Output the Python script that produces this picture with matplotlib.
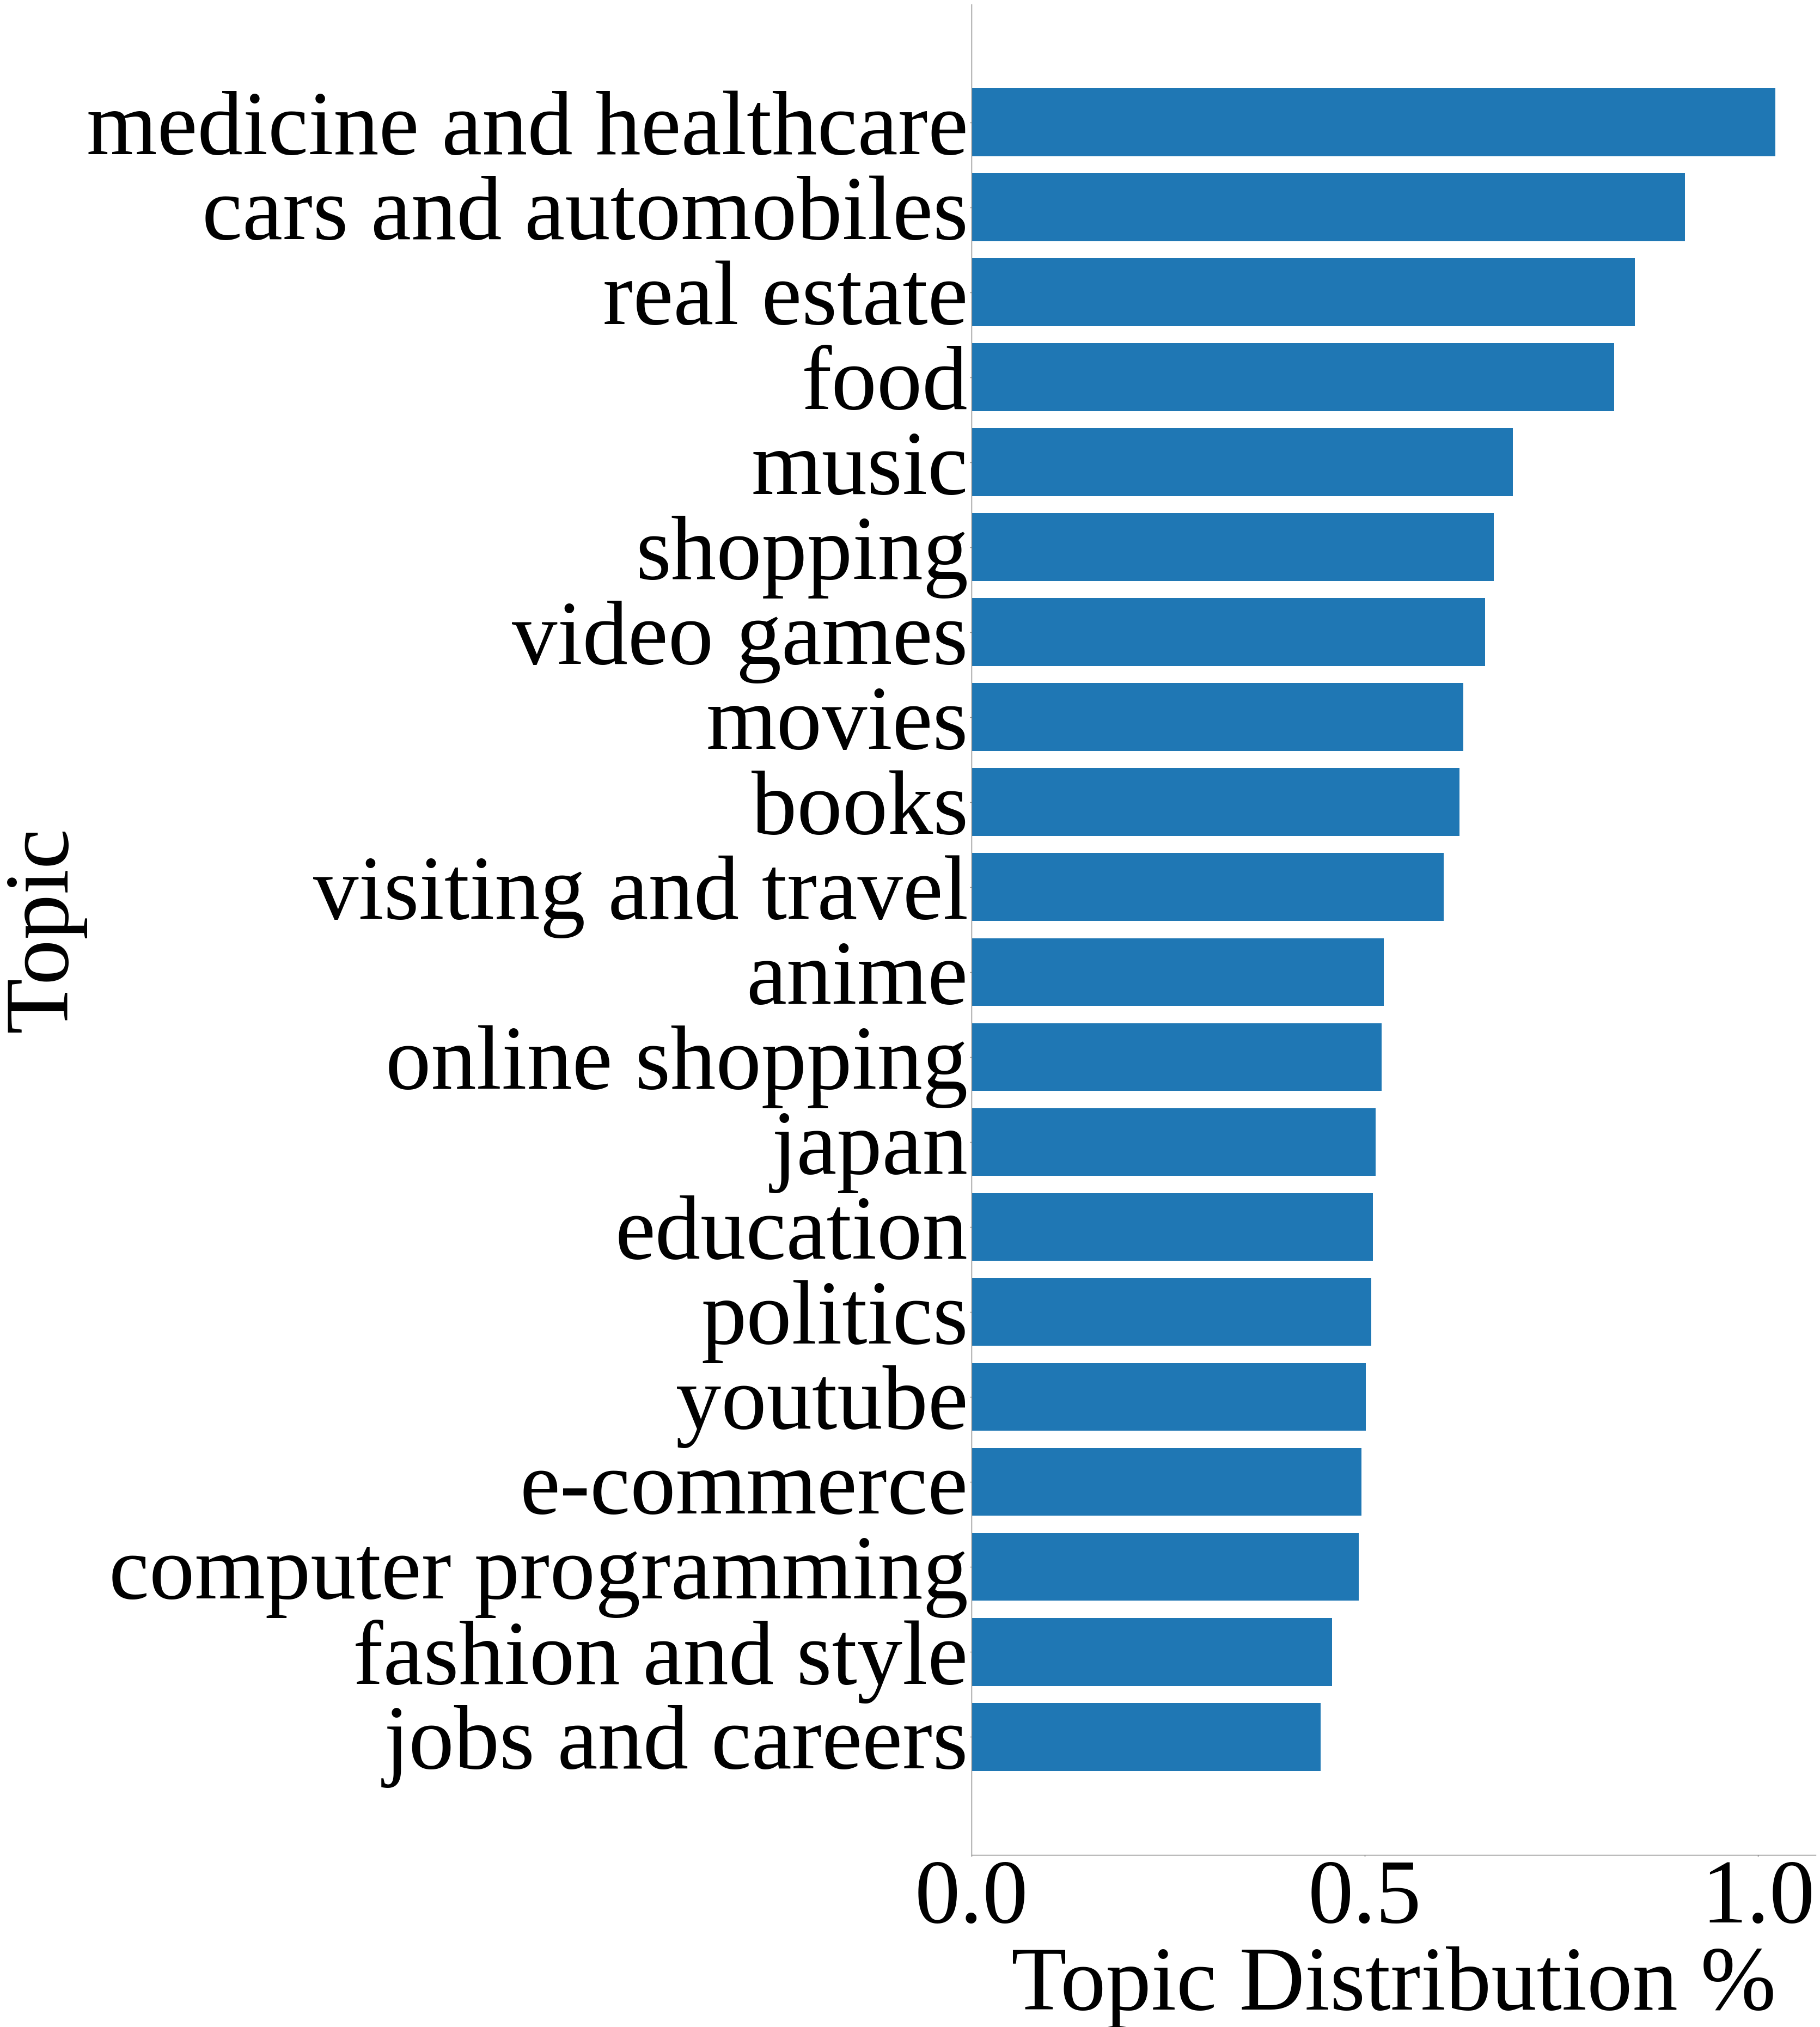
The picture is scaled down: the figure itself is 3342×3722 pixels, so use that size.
import matplotlib
matplotlib.use("Agg")
import matplotlib.pyplot as plt

topics = ["medicine and healthcare", "cars and automobiles", "real estate", "food",
          "music", "shopping", "video games", "movies", "books", "visiting and travel",
          "anime", "online shopping", "japan", "education", "politics", "youtube",
          "e-commerce", "computer programming", "fashion and style", "jobs and careers"]
values = [1.022, 0.907, 0.843, 0.817, 0.688, 0.664, 0.653, 0.625, 0.620, 0.600,
          0.524, 0.521, 0.514, 0.510, 0.508, 0.501, 0.496, 0.492, 0.458, 0.444]
xticks = [0.0, 0.5, 1.0]
xticklabels = ["0.0", "0.5", "1.0"]

plt.rcParams['font.family'] = ['Liberation Serif', 'DejaVu Serif']
FS = 120

fig = plt.figure(figsize=(33.42, 37.22), dpi=100)
ax = fig.add_axes([0.5338, 0.0849, 0.9976 - 0.5338, 0.9979 - 0.0849])

ax.barh(range(len(topics)), values, height=0.8, color="#1f77b4")
ax.set_yticks(range(len(topics)))
ax.set_yticklabels(topics, fontsize=FS)
ax.invert_yaxis()
ax.set_xticks(xticks)
ax.set_xticklabels(xticklabels, fontsize=FS)

ax.set_xlabel("Topic Distribution %", fontsize=FS, labelpad=5)
ax.set_ylabel("Topic", fontsize=FS)
ax.yaxis.set_label_coords(-1.0487, 0.5)

for s in ["top", "right"]:
    ax.spines[s].set_visible(False)
for s in ["left", "bottom"]:
    ax.spines[s].set_color("#808080")
    ax.spines[s].set_linewidth(1.0)
ax.tick_params(axis="y", colors="#808080", length=2.5, width=1.0, labelcolor="black", pad=2)
ax.tick_params(axis="x", colors="#808080", length=2.5, width=1.0, labelcolor="black", pad=3)

fig.savefig("out.png", dpi=100)
